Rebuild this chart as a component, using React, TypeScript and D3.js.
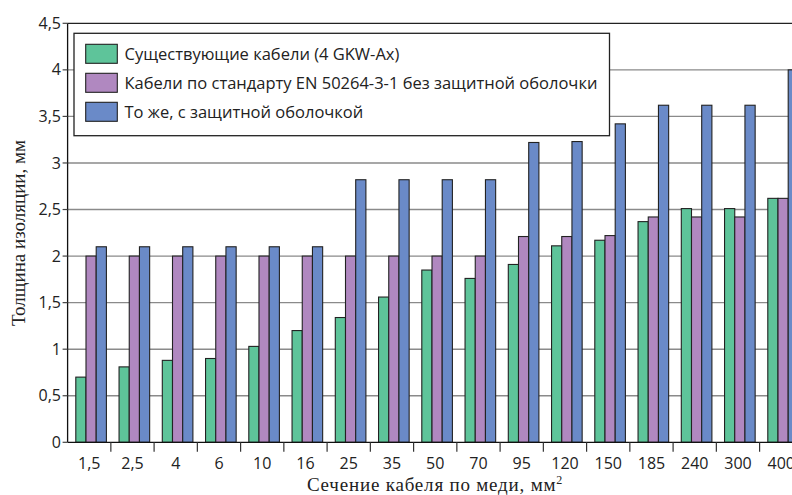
import React from "react";
import * as d3 from "d3";

const categories = ["1,5", "2,5", "4", "6", "10", "16", "25", "35", "50", "70", "95", "120", "150", "185", "240", "300", "400"];
const existing = [0.7, 0.81, 0.88, 0.9, 1.03, 1.2, 1.34, 1.56, 1.85, 1.76, 1.91, 2.11, 2.17, 2.37, 2.51, 2.51, 2.62];
const noSheath = [2.0, 2.0, 2.0, 2.0, 2.0, 2.0, 2.0, 2.0, 2.0, 2.0, 2.21, 2.21, 2.22, 2.42, 2.42, 2.42, 2.62];
const withSheath = [2.1, 2.1, 2.1, 2.1, 2.1, 2.1, 2.82, 2.82, 2.82, 2.82, 3.22, 3.23, 3.42, 3.62, 3.62, 3.62, 4.0];
const seriesNames = ["Существующие кабели (4 GKW-Ax)", "Кабели по стандарту EN 50264-3-1 без защитной оболочки", "То же, с защитной оболочкой"];
const seriesColors = ["#5EC49A", "#B088C0", "#6A8AC8"];
const yTicks = [0, 0.5, 1, 1.5, 2, 2.5, 3, 3.5, 4, 4.5];
const yTickLabels = ["0", "0,5", "1", "1,5", "2", "2,5", "3", "3,5", "4", "4,5"];

const W = 792, H = 495;
const left = 67.6, top = 23.3, bottom = 442.3, step = 43.25;
const right = left + step * categories.length;

export default function App() {
  const x = d3.scaleBand<string>().domain(categories).range([left, right]).padding(0);
  const inner = d3.scaleBand<number>().domain([0, 1, 2]).range([8.2, 38.8]).padding(0);
  const y = d3.scaleLinear().domain([0, 4.5]).range([bottom, top]);
  const series = [existing, noSheath, withSheath];
  const sans = "'Open Sans', 'Noto Sans', sans-serif";
  const serif = "'Liberation Serif', 'DejaVu Serif', serif";

  return (
    <svg width={W} height={H} style={{ position: "absolute", left: 0, top: 0, background: "#fff" }}>
      <rect x={0} y={0} width={W} height={H} fill="#fff" />
      {/* gridlines */}
      {yTicks.slice(1).map((t, i) => (
        <line key={"g" + i} x1={left} x2={right} y1={y(t)} y2={y(t)}
          stroke={t === 4.5 ? "#222" : "#8a8a8a"} strokeWidth={t === 4.5 ? 1.3 : 1.4} />
      ))}
      {/* bars */}
      {categories.map((c, i) => (
        <g key={"c" + i}>
          {series.map((s, k) => (
            <rect key={k} x={(x(c) as number) + (inner(k) as number)} y={y(s[i])}
              width={inner.bandwidth()} height={bottom - y(s[i])}
              fill={seriesColors[k]} stroke="#222" strokeWidth={1.1} />
          ))}
        </g>
      ))}
      {/* axes */}
      <line x1={left} x2={left} y1={top} y2={bottom} stroke="#111" strokeWidth={1.3} />
      <line x1={left} x2={right} y1={bottom} y2={bottom} stroke="#111" strokeWidth={1.3} />
      {yTicks.map((t, i) => (
        <g key={"yt" + i}>
          <line x1={left - 5} x2={left} y1={y(t)} y2={y(t)} stroke="#444" strokeWidth={1.2} />
          <text x={61} y={y(t)} dy="0.35em" textAnchor="end" fontFamily={sans} fontSize={16} fill="#222">{yTickLabels[i]}</text>
        </g>
      ))}
      {categories.map((c, i) => (
        <g key={"xt" + i}>
          {i > 0 && <line x1={x(c)} x2={x(c)} y1={bottom} y2={bottom + 9.5} stroke="#333" strokeWidth={1.2} />}
          <text x={(x(c) as number) + x.bandwidth() / 2} y={468.5} textAnchor="middle" fontFamily={sans} fontSize={16} fill="#222">{c}</text>
        </g>
      ))}
      {/* axis titles */}
      <text x={435} y={491} textAnchor="middle" fontFamily={serif} fontSize={19} letterSpacing={0.8} fill="#222">
        Сечение кабеля по меди, мм<tspan dy={-7} fontSize={12}>2</tspan>
      </text>
      <text transform={`translate(25,${233}) rotate(-90)`} textAnchor="middle" fontFamily={serif} fontSize={19} fill="#222">
        Толщина изоляции, мм
      </text>
      {/* legend */}
      <rect x={74} y={33.3} width={535.5} height={102.4} fill="#fff" stroke="#222" strokeWidth={1.3} />
      {seriesNames.map((n, k) => (
        <g key={"l" + k}>
          <rect x={85.7} y={44.3 + k * 29} width={31.6} height={19} fill={seriesColors[k]} stroke="#222" strokeWidth={1.1} />
          <text x={124.5} y={44.3 + k * 29 + 9.5} dy="0.35em" fontFamily={sans} fontSize={16.5} fill="#222">{n}</text>
        </g>
      ))}
    </svg>
  );
}
